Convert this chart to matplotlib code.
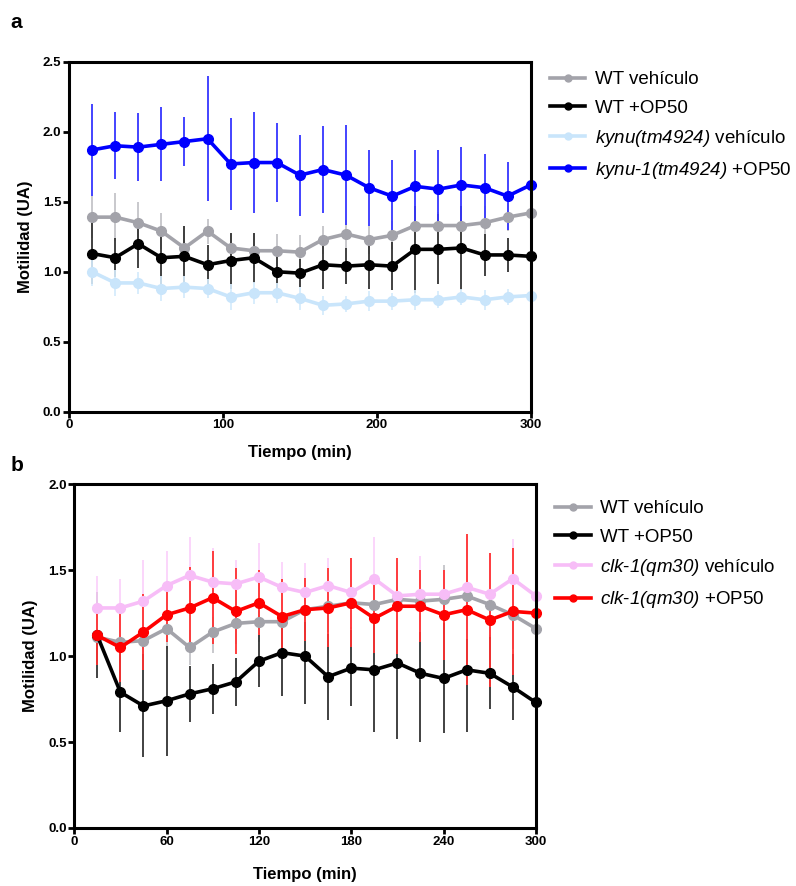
import matplotlib
matplotlib.use("Agg")
import matplotlib.pyplot as plt
import numpy as np

plt.rcParams['font.family'] = ['Liberation Sans', 'DejaVu Sans']
plt.rcParams['mathtext.fontset'] = 'custom'
plt.rcParams['mathtext.sf'] = 'Liberation Sans:italic'
plt.rcParams['mathtext.rm'] = 'Liberation Sans'

tiempo = [15, 30, 45, 60, 75, 90, 105, 120, 135, 150,
          165, 180, 195, 210, 225, 240, 255, 270, 285, 300]

# panel a
wt_veh_a = [1.39, 1.39, 1.35, 1.29, 1.17, 1.29, 1.17, 1.15, 1.15, 1.14,
            1.23, 1.27, 1.23, 1.26, 1.33, 1.33, 1.33, 1.35, 1.39, 1.42]
wt_veh_a_err = [0.15, 0.17, 0.15, 0.13, 0.16, 0.09, 0.10, 0.12, 0.12, 0.12,
                0.10, 0.10, 0.10, 0.10, 0.10, 0.10, 0.10, 0.12, 0.10, 0.12]
wt_op50_a = [1.13, 1.10, 1.20, 1.10, 1.11, 1.05, 1.08, 1.10, 1.00, 0.99,
             1.05, 1.04, 1.05, 1.04, 1.16, 1.16, 1.17, 1.12, 1.12, 1.11]
wt_op50_a_err = [0.22, 0.14, 0.17, 0.19, 0.22, 0.14, 0.20, 0.18, 0.12, 0.10,
                 0.17, 0.13, 0.17, 0.17, 0.31, 0.25, 0.30, 0.15, 0.12, 0.20]
kynu_veh_a = [1.00, 0.92, 0.92, 0.88, 0.89, 0.88, 0.82, 0.85, 0.85, 0.81,
              0.76, 0.77, 0.79, 0.79, 0.80, 0.80, 0.82, 0.80, 0.82, 0.83]
kynu_veh_a_err = [0.10, 0.09, 0.08, 0.09, 0.08, 0.07, 0.09, 0.08, 0.07, 0.08,
                  0.07, 0.06, 0.07, 0.06, 0.07, 0.06, 0.06, 0.07, 0.06, 0.09]
kynu_op50_a = [1.87, 1.90, 1.89, 1.91, 1.93, 1.95, 1.77, 1.78, 1.78, 1.69,
               1.73, 1.69, 1.60, 1.54, 1.61, 1.59, 1.62, 1.60, 1.54, 1.62]
kynu_op50_a_err = [0.33, 0.24, 0.245, 0.265, 0.175, 0.445, 0.33, 0.36, 0.285, 0.29,
                   0.31, 0.355, 0.27, 0.26, 0.26, 0.28, 0.27, 0.24, 0.245, 0.32]

# panel b
wt_veh_b = [1.11, 1.08, 1.09, 1.16, 1.05, 1.14, 1.19, 1.20, 1.20, 1.27,
            1.29, 1.31, 1.30, 1.33, 1.32, 1.33, 1.35, 1.30, 1.24, 1.16]
wt_veh_b_err = [0.15, 0.12, 0.10, 0.12, 0.10, 0.12, 0.12, 0.12, 0.13, 0.15,
                0.15, 0.15, 0.15, 0.16, 0.16, 0.20, 0.18, 0.20, 0.20, 0.20]
wt_op50_b = [1.12, 0.79, 0.71, 0.74, 0.78, 0.81, 0.85, 0.97, 1.02, 1.00,
             0.88, 0.93, 0.92, 0.96, 0.90, 0.87, 0.92, 0.90, 0.82, 0.73]
wt_op50_b_err = [0.25, 0.23, 0.30, 0.32, 0.165, 0.145, 0.14, 0.15, 0.25, 0.28,
                 0.25, 0.22, 0.36, 0.44, 0.40, 0.32, 0.36, 0.21, 0.19, 0.30]
clk_veh_b = [1.28, 1.28, 1.32, 1.41, 1.47, 1.43, 1.42, 1.46, 1.40, 1.37,
             1.41, 1.37, 1.45, 1.35, 1.36, 1.36, 1.40, 1.36, 1.45, 1.35]
clk_veh_b_err = [0.185, 0.17, 0.24, 0.20, 0.22, 0.20, 0.14, 0.20, 0.15, 0.17,
                 0.16, 0.20, 0.24, 0.20, 0.22, 0.14, 0.30, 0.24, 0.23, 0.20]
clk_op50_b = [1.12, 1.05, 1.14, 1.24, 1.28, 1.34, 1.26, 1.31, 1.23, 1.27,
              1.28, 1.31, 1.22, 1.29, 1.29, 1.24, 1.27, 1.21, 1.26, 1.25]
clk_op50_b_err = [0.17, 0.20, 0.22, 0.16, 0.24, 0.27, 0.25, 0.19, 0.22, 0.185,
                  0.23, 0.26, 0.20, 0.28, 0.21, 0.26, 0.44, 0.39, 0.37, 0.29]

series_a = [
    (wt_veh_a, wt_veh_a_err, '#a3a3aa', '#c4c4c8', 'WT vehículo'),
    (wt_op50_a, wt_op50_a_err, '#000000', '#333333', 'WT +OP50'),
    (kynu_veh_a, kynu_veh_a_err, '#c9e5fb', '#d6ecfc', r'$\mathsf{kynu(tm4924)}$ vehículo'),
    (kynu_op50_a, kynu_op50_a_err, '#0000ff', '#3535ff', r'$\mathsf{kynu}$-$\mathsf{1(tm4924)}$ +OP50'),
]
series_b = [
    (wt_veh_b, wt_veh_b_err, '#a3a3aa', '#c4c4c8', 'WT vehículo'),
    (wt_op50_b, wt_op50_b_err, '#000000', '#333333', 'WT +OP50'),
    (clk_veh_b, clk_veh_b_err, '#f7bdf7', '#fbd2fb', r'$\mathsf{clk}$-$\mathsf{1(qm30)}$ vehículo'),
    (clk_op50_b, clk_op50_b_err, '#ff0000', '#ff3030', r'$\mathsf{clk}$-$\mathsf{1(qm30)}$ +OP50'),
]

fig = plt.figure(figsize=(7.96, 8.86), dpi=100)
ax_a = fig.add_axes([0.0867, 0.5353, 0.580, 0.395])
ax_b = fig.add_axes([0.0932, 0.0655, 0.580, 0.388])


def draw_panel(ax, series, ymax, xticks, leg_y, xpad):
    for vals, err, col, ecol, lab in series:
        ax.errorbar(tiempo, vals, yerr=err, color=col, ecolor=ecol,
                    elinewidth=1.3, capsize=0, lw=2.6, marker='o',
                    markersize=7, label=lab, clip_on=False)
    ax.set_xlim(0, 300)
    ax.set_ylim(0, ymax)
    ax.set_xticks(xticks)
    yt = np.arange(0, ymax + 0.01, 0.5)
    ax.set_yticks(yt)
    ax.set_yticklabels([f'{v:.1f}' for v in yt])
    for s in ax.spines.values():
        s.set_linewidth(2.2)
    ax.tick_params(direction='out', length=4, width=2, labelsize=9.5, pad=1.5)
    for lbl in ax.get_xticklabels() + ax.get_yticklabels():
        lbl.set_fontweight('bold')
    ax.set_xlabel('Tiempo (min)', fontsize=12, fontweight='bold', labelpad=xpad)
    ax.set_ylabel('Motilidad (UA)', fontsize=12, fontweight='bold', labelpad=7)
    h, l = ax.get_legend_handles_labels()
    h = [x[0] for x in h]
    leg = ax.legend(h, l, loc='upper left', bbox_to_anchor=(1.025, leg_y),
                    frameon=False, fontsize=13.5, handlelength=1.9,
                    handletextpad=0.5, labelspacing=0.6, borderaxespad=0)
    for line in leg.get_lines():
        line.set_markersize(5)
        line.set_linewidth(2.6)


draw_panel(ax_a, series_a, 2.5, [0, 100, 200, 300], 0.995, 10)
draw_panel(ax_b, series_b, 2.0, [0, 60, 120, 180, 240, 300], 0.975, 14)

fig.text(0.013, 0.968, 'a', fontsize=15, fontweight='bold')
fig.text(0.013, 0.468, 'b', fontsize=15, fontweight='bold')

fig.savefig('out.png', dpi=100)
